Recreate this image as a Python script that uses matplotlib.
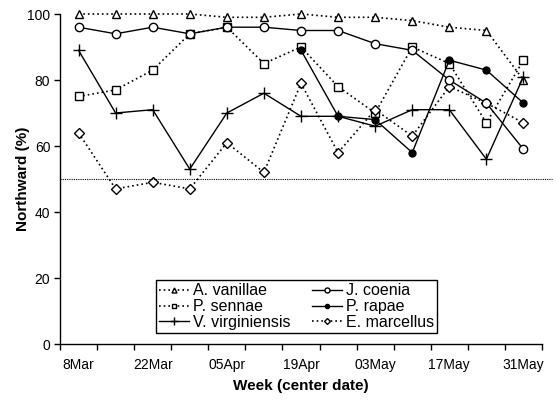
import matplotlib
matplotlib.use("Agg")
import matplotlib.pyplot as plt
import numpy as np

plt.rcParams['font.family'] = ['Liberation Sans', 'DejaVu Sans']

weeks = ["8Mar", "15Mar", "22Mar", "29Mar", "05Apr", "12Apr", "19Apr",
         "26Apr", "03May", "10May", "17May", "24May", "31May"]
a_vanillae = [100, 100, 100, 100, 99, 99, 100, 99, 99, 98, 96, 95, 80]
j_coenia = [96, 94, 96, 94, 96, 96, 95, 95, 91, 89, 80, 73, 59]
p_sennae = [75, 77, 83, 94, 96, 85, 90, 78, 70, 90, 85, 67, 86]
p_rapae = [np.nan, np.nan, np.nan, np.nan, np.nan, np.nan, 89, 69, 68, 58, 86, 83, 73]
v_virginiensis = [89, 70, 71, 53, 70, 76, 69, 69, 66, 71, 71, 56, 81]
e_marcellus = [64, 47, 49, 47, 61, 52, 79, 58, 71, 63, 78, 73, 67]
threshold = 50

fig = plt.figure(figsize=(5.57, 4.04), dpi=100)
ax = fig.add_axes([60/557, 60/404, 482/557, 330/404])
x = np.arange(len(weeks))

dot = (0, (1, 1.8))
common = dict(color='black', markersize=6, markeredgewidth=1.0, markeredgecolor='black', clip_on=False)
h_av, = ax.plot(x, a_vanillae, linestyle=dot, lw=1.2, marker='^', markerfacecolor='white', label='A. vanillae', **common)
h_ps, = ax.plot(x, p_sennae, linestyle=dot, lw=1.2, marker='s', markerfacecolor='white', label='P. sennae', **common)
h_em, = ax.plot(x, e_marcellus, linestyle=dot, lw=1.2, marker='D', markerfacecolor='white', label='E. marcellus',
                color='black', markersize=5, markeredgewidth=1.0, markeredgecolor='black', clip_on=False)
h_jc, = ax.plot(x, j_coenia, linestyle='-', lw=1.0, marker='o', markerfacecolor='white', label='J. coenia', **common)
h_pr, = ax.plot(x, p_rapae, linestyle='-', lw=1.0, marker='o', markerfacecolor='black', label='P. rapae',
                color='black', markersize=5, markeredgecolor='black', clip_on=False)
h_vv, = ax.plot(x, v_virginiensis, linestyle='-', lw=1.0, marker='+', label='V. virginiensis',
                color='black', markersize=9, markeredgewidth=1.0, clip_on=False)

ax.axhline(threshold, xmin=0, xmax=1.02, color='black', linestyle=(0, (1, 1)), lw=0.8, clip_on=False)

ax.set_xlim(-0.5, len(weeks) - 0.5)
ax.set_ylim(0, 100)
ax.set_yticks(np.arange(0, 101, 20))
ax.set_xticks(np.arange(-0.5, len(weeks), 1.0))
ax.set_xticklabels([])
ax.set_xticks(x[::2], minor=True)
ax.set_xticklabels([weeks[i] for i in x[::2]], minor=True)
ax.tick_params(axis='x', which='minor', length=0, labelsize=10, pad=10)
ax.tick_params(axis='x', which='major', length=4, width=1, direction='out')
ax.tick_params(axis='y', length=4, width=1, direction='out', labelsize=10, pad=3)

for s in ['top', 'right']:
    ax.spines[s].set_visible(False)
for s in ['left', 'bottom']:
    ax.spines[s].set_linewidth(1.0)

ax.set_ylabel('Northward (%)', fontsize=11, fontweight='bold', labelpad=-2)
ax.set_xlabel('Week (center date)', fontsize=11, fontweight='bold', labelpad=5)

leg = ax.legend(handles=[h_av, h_ps, h_vv, h_jc, h_pr, h_em], ncol=2, loc='lower left',
                bbox_to_anchor=(0.199, 0.033), fontsize=11.5, frameon=True, fancybox=False,
                edgecolor='black', framealpha=1, markerscale=0.6, handlelength=1.9,
                handletextpad=0.25, columnspacing=1.3, labelspacing=0.05, borderpad=0.2,
                borderaxespad=0)
leg.get_frame().set_linewidth(1.0)

fig.savefig('out.png', dpi=100)
